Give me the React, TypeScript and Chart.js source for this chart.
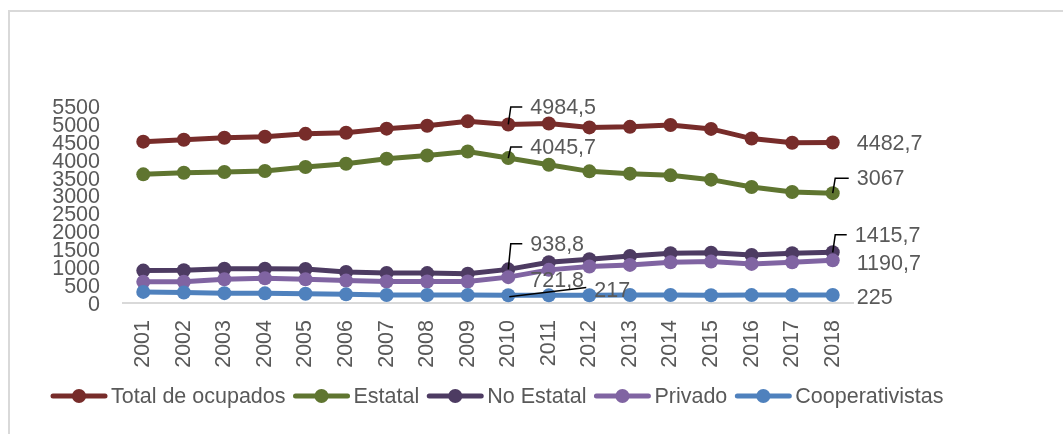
import React, { useEffect, useRef } from "react";
import { Chart, registerables } from "chart.js";

Chart.register(...registerables);

const years = ["2001", "2002", "2003", "2004", "2005", "2006", "2007", "2008", "2009", "2010", "2011", "2012", "2013", "2014", "2015", "2016", "2017", "2018"];
const totalOcupados = [4505, 4558, 4615, 4641, 4722, 4755, 4868, 4948, 5072, 4984.5, 5010, 4902, 4918, 4970, 4860, 4591, 4475, 4482.7];
const estatal = [3592, 3638, 3656, 3684, 3795, 3888, 4027, 4119, 4230, 4045.7, 3861, 3675, 3611, 3564, 3444, 3239, 3100, 3067];
const noEstatal = [905, 915, 955, 955, 950, 865, 840, 835, 815, 938.8, 1140, 1222, 1314, 1389, 1406, 1342, 1389, 1415.7];
const privado = [590, 595, 665, 690, 665, 625, 600, 600, 600, 721.8, 925, 1017, 1064, 1139, 1156, 1092, 1139, 1190.7];
const cooperativistas = [310, 295, 275, 270, 260, 242, 225, 222, 220, 217, 213, 217, 222, 225, 215, 220, 225, 225];

const seriesNames = ["Total de ocupados", "Estatal", "No Estatal", "Privado", "Cooperativistas"];
const seriesColors = ["#772C2A", "#5F7530", "#4D3B62", "#8064A2", "#4F81BD"];
const seriesData = [totalOcupados, estatal, noEstatal, privado, cooperativistas];

// data label placement (style only): series index, point index, offsets, leader type
const labelSpecs = [
  { s: 0, i: 9, dx: 22, dy: -17.5, leader: "elbow" },
  { s: 1, i: 9, dx: 22, dy: -11, leader: "elbow" },
  { s: 2, i: 9, dx: 22, dy: -25.5, leader: "elbow" },
  { s: 3, i: 9, dx: 22, dy: 3, leader: "" },
  { s: 4, i: 9, dx: 86, dy: -5, leader: "straight" },
  { s: 0, i: 17, dx: 24, dy: 1, leader: "" },
  { s: 1, i: 17, dx: 24, dy: -15, leader: "elbow" },
  { s: 2, i: 17, dx: 22, dy: -17.5, leader: "elbow" },
  { s: 3, i: 17, dx: 24, dy: 2.3, leader: "" },
  { s: 4, i: 17, dx: 24, dy: 2.3, leader: "" },
];

const FONT_FAMILY = "'Liberation Sans', Arial, sans-serif";
const FONT_SIZE = 21.5;
const FONT = `${FONT_SIZE}px ${FONT_FAMILY}`;
const TEXT_COLOR = "#595959";

const fmt = (v: number) => String(v).replace(".", ",");

const decorPlugin = {
  id: "decor",
  beforeDraw(chart: any) {
    const ctx = chart.ctx;
    ctx.save();
    ctx.fillStyle = "#ffffff";
    ctx.fillRect(0, 0, chart.width, chart.height);
    ctx.strokeStyle = "#d9d9d9";
    ctx.lineWidth = 2;
    ctx.strokeRect(9, 11, chart.width + 50, chart.height + 50);
    ctx.restore();
  },
  afterDatasetsDraw(chart: any) {
    const ctx = chart.ctx;
    ctx.save();
    ctx.font = FONT;
    ctx.textBaseline = "middle";
    ctx.textAlign = "left";
    for (const spec of labelSpecs) {
      const pt = chart.getDatasetMeta(spec.s).data[spec.i];
      const px = pt.x;
      const py = pt.y;
      const tx = px + spec.dx;
      const ty = py + spec.dy;
      if (spec.leader === "elbow") {
        ctx.strokeStyle = "#000000";
        ctx.lineWidth = 1.5;
        ctx.beginPath();
        ctx.moveTo(tx - 8, ty);
        ctx.lineTo(px + 2.5, ty);
        ctx.lineTo(px, py);
        ctx.stroke();
      } else if (spec.leader === "straight") {
        ctx.strokeStyle = "#000000";
        ctx.lineWidth = 1.5;
        ctx.beginPath();
        ctx.moveTo(px + 1, py + 1.5);
        ctx.lineTo(tx - 8, ty - 2.7);
        ctx.stroke();
      }
      ctx.fillStyle = TEXT_COLOR;
      ctx.fillText(fmt(seriesData[spec.s][spec.i]), tx, ty + 1);
    }
    ctx.restore();
  },
  afterDraw(chart: any) {
    const ctx = chart.ctx;
    ctx.save();
    ctx.font = FONT;
    ctx.textBaseline = "middle";
    ctx.textAlign = "left";
    let x = 51;
    const y = 396;
    for (let k = 0; k < seriesNames.length; k++) {
      ctx.strokeStyle = seriesColors[k];
      ctx.lineWidth = 5;
      ctx.lineCap = "round";
      ctx.beginPath();
      ctx.moveTo(x + 2, y);
      ctx.lineTo(x + 54, y);
      ctx.stroke();
      ctx.fillStyle = seriesColors[k];
      ctx.beginPath();
      ctx.arc(x + 28, y, 7, 0, Math.PI * 2);
      ctx.fill();
      ctx.fillStyle = TEXT_COLOR;
      ctx.fillText(seriesNames[k], x + 60, y + 1);
      x += 60 + ctx.measureText(seriesNames[k]).width + 8;
    }
    ctx.restore();
  },
};

export default function App() {
  const ref = useRef<HTMLCanvasElement | null>(null);
  useEffect(() => {
    if (!ref.current) return;
    const chart = new Chart(ref.current, {
      type: "line",
      data: {
        labels: years,
        datasets: seriesData.map((d, k) => ({
          label: seriesNames[k],
          data: d,
          borderColor: seriesColors[k],
          backgroundColor: seriesColors[k],
          pointBackgroundColor: seriesColors[k],
          pointBorderColor: seriesColors[k],
          borderWidth: 5,
          pointRadius: 7,
          pointBorderWidth: 0,
          tension: 0,
          fill: false,
          order: seriesNames.length - k,
        })),
      },
      options: {
        animation: false,
        responsive: false,
        devicePixelRatio: 1,
        layout: { padding: { top: 106, right: 210, left: 0, bottom: 0 } },
        plugins: {
          legend: { display: false },
          tooltip: { enabled: false },
          title: { display: false },
        },
        scales: {
          x: {
            offset: true,
            grid: { display: false, drawTicks: false },
            border: { display: true, color: "#d9d9d9", width: 2 },
            ticks: {
              autoSkip: false,
              minRotation: 90,
              maxRotation: 90,
              padding: 17,
              color: TEXT_COLOR,
              font: { family: FONT_FAMILY, size: FONT_SIZE },
            },
            afterFit: (scale: any) => {
              scale.height = 131;
            },
          },
          y: {
            min: 0,
            max: 5500,
            grid: { display: false, drawTicks: false },
            border: { display: false },
            ticks: {
              autoSkip: false,
              stepSize: 500,
              padding: 23,
              labelOffset: 2,
              color: TEXT_COLOR,
              font: { family: FONT_FAMILY, size: FONT_SIZE },
              callback: (v: any) => String(v),
            },
            afterFit: (scale: any) => {
              scale.width = 123;
            },
          },
        },
      },
      plugins: [decorPlugin],
    } as any);
    return () => chart.destroy();
  }, []);
  return (
    <div style={{ position: "absolute", left: 0, top: 0, width: 1063, height: 434, background: "#ffffff" }}>
      <canvas ref={ref} width={1063} height={434} style={{ display: "block" }} />
    </div>
  );
}
